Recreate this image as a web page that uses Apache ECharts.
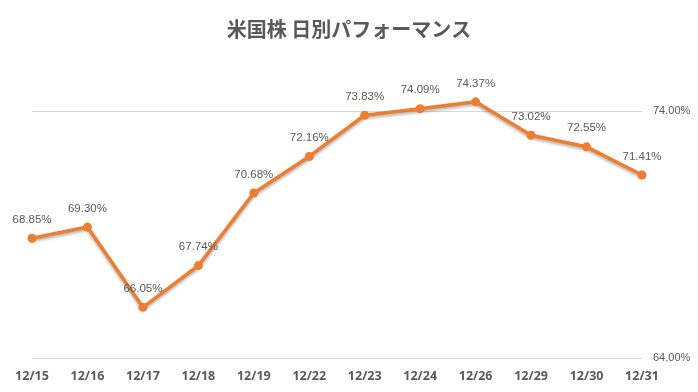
<!DOCTYPE html>
<html><head><meta charset="utf-8">
<script src="https://cdn.jsdelivr.net/npm/echarts@6/dist/echarts.min.js"></script>
<style>html,body{margin:0;padding:0;background:#fff}#c{width:698px;height:392px}</style>
</head><body><div id="c"></div>
<script>
const categories = ['12/15','12/16','12/17','12/18','12/19','12/22','12/23','12/24','12/26','12/29','12/30','12/31'];
const values = [68.85, 69.30, 66.05, 67.74, 70.68, 72.16, 73.83, 74.09, 74.37, 73.02, 72.55, 71.41];
const titleText = '米国株 日別パフォーマンス';

const chart = echarts.init(document.getElementById('c'), null, {renderer:'canvas'});
chart.setOption({
  animation: false,
  backgroundColor: '#fff',
  title: {
    text: titleText, left: 'center', top: 14,
    textStyle: {fontFamily: 'Noto Sans CJK JP', fontSize: 20, fontWeight: 'bold', color: '#595959'}
  },
  grid: {left: 32, right: 56, top: 111, bottom: 34},
  xAxis: {
    type: 'category', data: categories, boundaryGap: false,
    axisLine: {show: false}, axisTick: {show: false},
    axisLabel: {color: '#595959', fontSize: 12.5, fontWeight: 'bold', fontFamily: 'Open Sans', margin: 12}
  },
  yAxis: {
    type: 'value', position: 'right', min: 64, max: 74, interval: 10,
    axisLine: {show: false}, axisTick: {show: false},
    splitLine: {lineStyle: {color: '#d9d9d9', width: 1}},
    axisLabel: {color: '#595959', fontSize: 11, fontFamily: 'Liberation Sans', margin: 11,
      formatter: v => v.toFixed(2) + '%'}
  },
  series: [{
    type: 'line', data: values, clip: false,
    symbol: 'circle', symbolSize: 9,
    lineStyle: {color: '#ED7D31', width: 3.5, shadowColor: 'rgba(0,0,0,0.3)', shadowBlur: 3, shadowOffsetY: 2},
    itemStyle: {color: '#ED7D31'},
    label: {show: true, position: 'top', distance: 8, color: '#595959', fontSize: 11.5, fontFamily: 'Liberation Sans',
      formatter: p => p.value.toFixed(2) + '%'}
  }]
});
</script></body></html>
